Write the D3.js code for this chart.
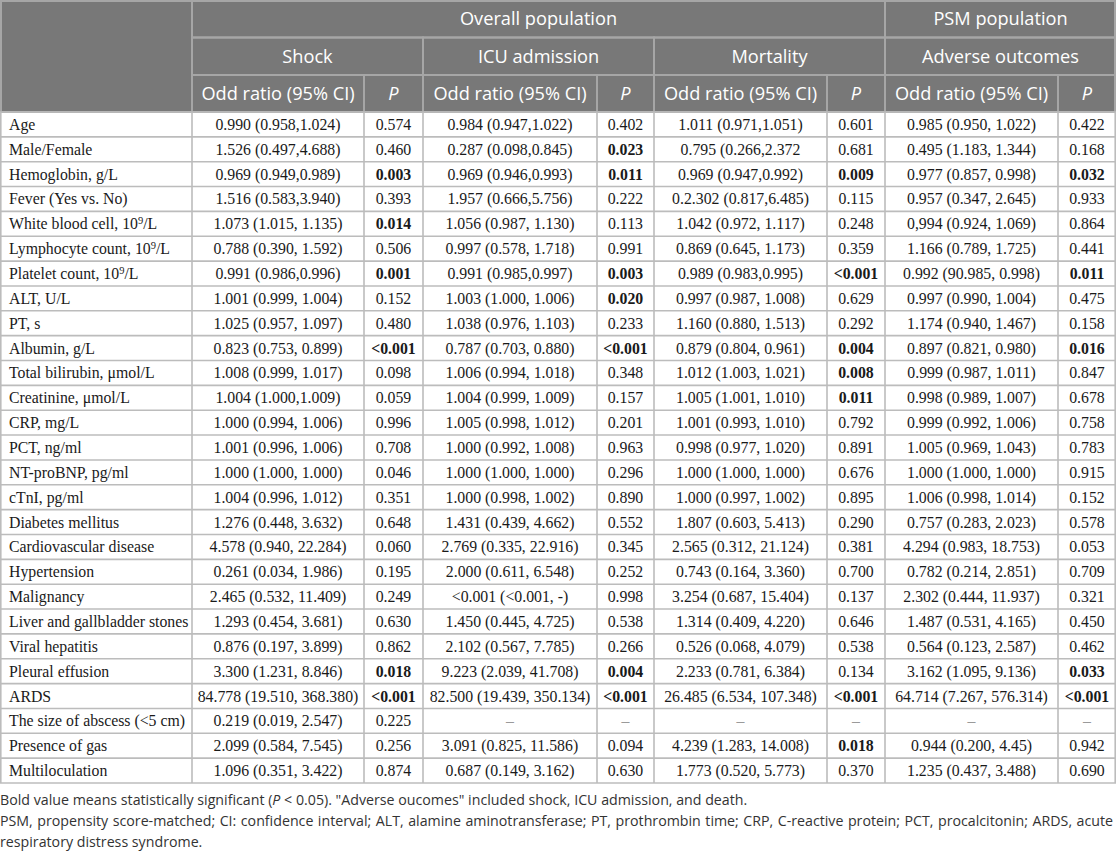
<!DOCTYPE html>
<html>
<head>
<meta charset="utf-8">
<script src="https://cdn.jsdelivr.net/npm/d3@7"></script>
<style>
  body { margin: 0; background: #fff; }
</style>
</head>
<body>
<svg id="tbl" width="1116" height="853"></svg>
<script>
// Header texts
const groups = ["Overall population", "PSM population"];
const outcomes = ["Shock", "ICU admission", "Mortality", "Adverse outcomes"];
const subHeads = ["Odd ratio (95% CI)", "P"];

// Row labels ("^9" is drawn as superscript)
const variables = ["Age", "Male/Female", "Hemoglobin, g/L", "Fever (Yes vs. No)",
    "White blood cell, 10^9/L", "Lymphocyte count, 10^9/L", "Platelet count, 10^9/L",
    "ALT, U/L", "PT, s", "Albumin, g/L", "Total bilirubin, \u03bcmol/L", "Creatinine, \u03bcmol/L",
    "CRP, mg/L", "PCT, ng/ml", "NT-proBNP, pg/ml", "cTnI, pg/ml", "Diabetes mellitus",
    "Cardiovascular disease", "Hypertension", "Malignancy", "Liver and gallbladder stones",
    "Viral hepatitis", "Pleural effusion", "ARDS", "The size of abscess (<5 cm)",
    "Presence of gas", "Multiloculation"];

const shockOR = ["0.990 (0.958,1.024)", "1.526 (0.497,4.688)", "0.969 (0.949,0.989)", "1.516 (0.583,3.940)",
    "1.073 (1.015, 1.135)", "0.788 (0.390, 1.592)", "0.991 (0.986,0.996)", "1.001 (0.999, 1.004)",
    "1.025 (0.957, 1.097)", "0.823 (0.753, 0.899)", "1.008 (0.999, 1.017)", "1.004 (1.000,1.009)",
    "1.000 (0.994, 1.006)", "1.001 (0.996, 1.006)", "1.000 (1.000, 1.000)", "1.004 (0.996, 1.012)",
    "1.276 (0.448, 3.632)", "4.578 (0.940, 22.284)", "0.261 (0.034, 1.986)", "2.465 (0.532, 11.409)",
    "1.293 (0.454, 3.681)", "0.876 (0.197, 3.899)", "3.300 (1.231, 8.846)", "84.778 (19.510, 368.380)",
    "0.219 (0.019, 2.547)", "2.099 (0.584, 7.545)", "1.096 (0.351, 3.422)"];
const shockP = ["0.574", "0.460", "0.003", "0.393", "0.014", "0.506", "0.001", "0.152", "0.480", "<0.001",
    "0.098", "0.059", "0.996", "0.708", "0.046", "0.351", "0.648", "0.060", "0.195", "0.249", "0.630",
    "0.862", "0.018", "<0.001", "0.225", "0.256", "0.874"];
const shockBold = [2, 4, 6, 9, 22, 23];

const icuOR = ["0.984 (0.947,1.022)", "0.287 (0.098,0.845)", "0.969 (0.946,0.993)", "1.957 (0.666,5.756)",
    "1.056 (0.987, 1.130)", "0.997 (0.578, 1.718)", "0.991 (0.985,0.997)", "1.003 (1.000, 1.006)",
    "1.038 (0.976, 1.103)", "0.787 (0.703, 0.880)", "1.006 (0.994, 1.018)", "1.004 (0.999, 1.009)",
    "1.005 (0.998, 1.012)", "1.000 (0.992, 1.008)", "1.000 (1.000, 1.000)", "1.000 (0.998, 1.002)",
    "1.431 (0.439, 4.662)", "2.769 (0.335, 22.916)", "2.000 (0.611, 6.548)", "<0.001 (<0.001, -)",
    "1.450 (0.445, 4.725)", "2.102 (0.567, 7.785)", "9.223 (2.039, 41.708)", "82.500 (19.439, 350.134)",
    "\u2013", "3.091 (0.825, 11.586)", "0.687 (0.149, 3.162)"];
const icuP = ["0.402", "0.023", "0.011", "0.222", "0.113", "0.991", "0.003", "0.020", "0.233", "<0.001",
    "0.348", "0.157", "0.201", "0.963", "0.296", "0.890", "0.552", "0.345", "0.252", "0.998", "0.538",
    "0.266", "0.004", "<0.001", "\u2013", "0.094", "0.630"];
const icuBold = [1, 2, 6, 7, 9, 22, 23];

const mortOR = ["1.011 (0.971,1.051)", "0.795 (0.266,2.372", "0.969 (0.947,0.992)", "0.2.302 (0.817,6.485)",
    "1.042 (0.972, 1.117)", "0.869 (0.645, 1.173)", "0.989 (0.983,0.995)", "0.997 (0.987, 1.008)",
    "1.160 (0.880, 1.513)", "0.879 (0.804, 0.961)", "1.012 (1.003, 1.021)", "1.005 (1.001, 1.010)",
    "1.001 (0.993, 1.010)", "0.998 (0.977, 1.020)", "1.000 (1.000, 1.000)", "1.000 (0.997, 1.002)",
    "1.807 (0.603, 5.413)", "2.565 (0.312, 21.124)", "0.743 (0.164, 3.360)", "3.254 (0.687, 15.404)",
    "1.314 (0.409, 4.220)", "0.526 (0.068, 4.079)", "2.233 (0.781, 6.384)", "26.485 (6.534, 107.348)",
    "\u2013", "4.239 (1.283, 14.008)", "1.773 (0.520, 5.773)"];
const mortP = ["0.601", "0.681", "0.009", "0.115", "0.248", "0.359", "<0.001", "0.629", "0.292", "0.004",
    "0.008", "0.011", "0.792", "0.891", "0.676", "0.895", "0.290", "0.381", "0.700", "0.137", "0.646",
    "0.538", "0.134", "<0.001", "\u2013", "0.018", "0.370"];
const mortBold = [2, 6, 9, 10, 11, 23, 25];

const psmOR = ["0.985 (0.950, 1.022)", "0.495 (1.183, 1.344)", "0.977 (0.857, 0.998)", "0.957 (0.347, 2.645)",
    "0,994 (0.924, 1.069)", "1.166 (0.789, 1.725)", "0.992 (90.985, 0.998)", "0.997 (0.990, 1.004)",
    "1.174 (0.940, 1.467)", "0.897 (0.821, 0.980)", "0.999 (0.987, 1.011)", "0.998 (0.989, 1.007)",
    "0.999 (0.992, 1.006)", "1.005 (0.969, 1.043)", "1.000 (1.000, 1.000)", "1.006 (0.998, 1.014)",
    "0.757 (0.283, 2.023)", "4.294 (0.983, 18.753)", "0.782 (0.214, 2.851)", "2.302 (0.444, 11.937)",
    "1.487 (0.531, 4.165)", "0.564 (0.123, 2.587)", "3.162 (1.095, 9.136)", "64.714 (7.267, 576.314)",
    "\u2013", "0.944 (0.200, 4.45)", "1.235 (0.437, 3.488)"];
const psmP = ["0.422", "0.168", "0.032", "0.933", "0.864", "0.441", "0.011", "0.475", "0.158", "0.016",
    "0.847", "0.678", "0.758", "0.783", "0.915", "0.152", "0.578", "0.053", "0.709", "0.321", "0.450",
    "0.462", "0.033", "<0.001", "\u2013", "0.942", "0.690"];
const psmBold = [2, 6, 9, 22, 23];

// Footnote lines: [text, italic]; second line is justified like the source paragraph
const notes = [
    [["Bold value means statistically significant (", false], ["P", true], [" < 0.05). \"Adverse oucomes\" included shock, ICU admission, and death.", false]],
    [["PSM, propensity score-matched; CI: confidence interval; ALT, alamine aminotransferase; PT, prothrombin time; CRP, C-reactive protein; PCT, procalcitonin; ARDS, acute", false]],
    [["respiratory distress syndrome.", false]]
];
const justified = [false, true, false];

// ---- layout ----
const W = 1116;
const edges = [0, 192, 364, 423, 597, 654, 827, 885, 1058, 1116];   // column boundaries
const headRows = [0, 37.5, 75, 112];
const tableBottom = 783;
const firstNoteEnd = 748;   // where the first footnote line ends in the source

const svg = d3.select('#tbl');

// row scale for the body
const y = d3.scaleBand()
    .domain(d3.range(variables.length))
    .range([headRows[3], tableBottom]);

const headFill = '#787878';
const headLine = '#a6a6a6';
const bodyLine = '#bcbcbc';
const sans = "'Open Sans', 'Noto Sans', sans-serif";
const serif = "'Liberation Serif', 'Times New Roman', serif";
const bodySize = '15.8px';

// header background
svg.append('rect')
    .attr('x', 0).attr('y', 0)
    .attr('width', W).attr('height', headRows[3])
    .attr('fill', headFill);

// header cells: [x0, x1, y0, y1, text, italic]
const headCells = [];
headCells.push([edges[0], edges[1], headRows[0], headRows[3], '', false]);
headCells.push([edges[1], edges[7], headRows[0], headRows[1], groups[0], false]);
headCells.push([edges[7], edges[9], headRows[0], headRows[1], groups[1], false]);
outcomes.forEach((o, i) => {
    headCells.push([edges[1 + i * 2], edges[3 + i * 2], headRows[1], headRows[2], o, false]);
    headCells.push([edges[1 + i * 2], edges[2 + i * 2], headRows[2], headRows[3], subHeads[0], false]);
    headCells.push([edges[2 + i * 2], edges[3 + i * 2], headRows[2], headRows[3], subHeads[1], true]);
});

const hg = svg.append('g').attr('class', 'header');
headCells.forEach(c => {
    hg.append('rect')
        .attr('x', Math.max(c[0], 1)).attr('y', Math.max(c[2], 1))
        .attr('width', Math.min(c[1], W - 1) - Math.max(c[0], 1))
        .attr('height', c[3] - Math.max(c[2], 1))
        .attr('fill', 'none')
        .attr('stroke', headLine)
        .attr('stroke-width', 2);
    hg.append('text')
        .attr('x', (c[0] + c[1]) / 2)
        .attr('y', (c[2] + c[3]) / 2 + 1.5)
        .attr('text-anchor', 'middle')
        .attr('dominant-baseline', 'middle')
        .style('font-family', sans)
        .style('font-size', '18.2px')
        .style('font-style', c[5] ? 'italic' : 'normal')
        .style('fill', '#fff')
        .text(c[4]);
});

// body
const columns = [
    { vals: shockOR, bold: [] }, { vals: shockP, bold: shockBold },
    { vals: icuOR, bold: [] }, { vals: icuP, bold: icuBold },
    { vals: mortOR, bold: [] }, { vals: mortP, bold: mortBold },
    { vals: psmOR, bold: [] }, { vals: psmP, bold: psmBold }
];

const body = svg.append('g').attr('class', 'body');

// horizontal grid lines
body.selectAll('line.h')
    .data(d3.range(variables.length + 1))
    .enter()
    .append('line')
    .attr('x1', 0).attr('x2', W)
    .attr('y1', d => d < variables.length ? y(d) : tableBottom)
    .attr('y2', d => d < variables.length ? y(d) : tableBottom)
    .attr('stroke', bodyLine)
    .attr('stroke-width', 1.6);

// vertical grid lines
body.selectAll('line.v')
    .data(edges)
    .enter()
    .append('line')
    .attr('x1', d => Math.min(Math.max(d, 0.8), W - 0.8))
    .attr('x2', d => Math.min(Math.max(d, 0.8), W - 0.8))
    .attr('y1', headRows[3]).attr('y2', tableBottom)
    .attr('stroke', bodyLine)
    .attr('stroke-width', 1.6);

// row labels
variables.forEach((v, i) => {
    const t = body.append('text')
        .attr('x', 9)
        .attr('y', y(i) + y.bandwidth() / 2 + 5.5)
        .style('font-family', serif)
        .style('font-size', bodySize)
        .style('fill', '#1a1a1a');
    if (v.includes('^')) {
        const [pre, rest] = v.split('^');
        t.append('tspan').text(pre);
        t.append('tspan').attr('dy', -5.5).style('font-size', '10.5px').text(rest[0]);
        t.append('tspan').attr('dy', 5.5).text(rest.slice(1));
    } else {
        t.text(v);
    }
});

// values
columns.forEach((col, ci) => {
    const cx = (edges[ci + 1] + edges[ci + 2]) / 2;
    body.selectAll(null)
        .data(col.vals)
        .enter()
        .append('text')
        .attr('x', cx)
        .attr('y', (d, i) => y(i) + y.bandwidth() / 2 + 5.5)
        .attr('text-anchor', 'middle')
        .style('font-family', serif)
        .style('font-size', bodySize)
        .style('font-weight', (d, i) => col.bold.includes(i) ? 'bold' : 'normal')
        .style('fill', d => d === '\u2013' ? '#9a9a9a' : '#1a1a1a')
        .text(d => d);
});

// footnotes
const noteY = [805, 826, 847];
const noteNodes = notes.map((parts, li) => {
    const t = svg.append('text')
        .attr('x', 0)
        .attr('y', noteY[li])
        .style('font-family', sans)
        .style('font-size', '13px')
        .style('fill', '#333');
    parts.forEach(p => {
        t.append('tspan')
            .style('font-style', p[1] ? 'italic' : 'normal')
            .text(p[0]);
    });
    return t;
});

// size the footnote font from the first line, then justify / fit the second line
const noteSize = 13 * firstNoteEnd / noteNodes[0].node().getComputedTextLength();
noteNodes.forEach((t, li) => {
    t.style('font-size', `${noteSize}px`);
    if (justified[li]) {
        const natural = t.node().getComputedTextLength();
        const gaps = notes[li].map(p => p[0]).join('').split(' ').length - 1;
        const target = W - 3;
        if (natural < target) {
            t.style('word-spacing', `${(target - natural) / gaps}px`);
        } else {
            t.attr('textLength', target).attr('lengthAdjust', 'spacing');
        }
    }
});
</script>
</body>
</html>
